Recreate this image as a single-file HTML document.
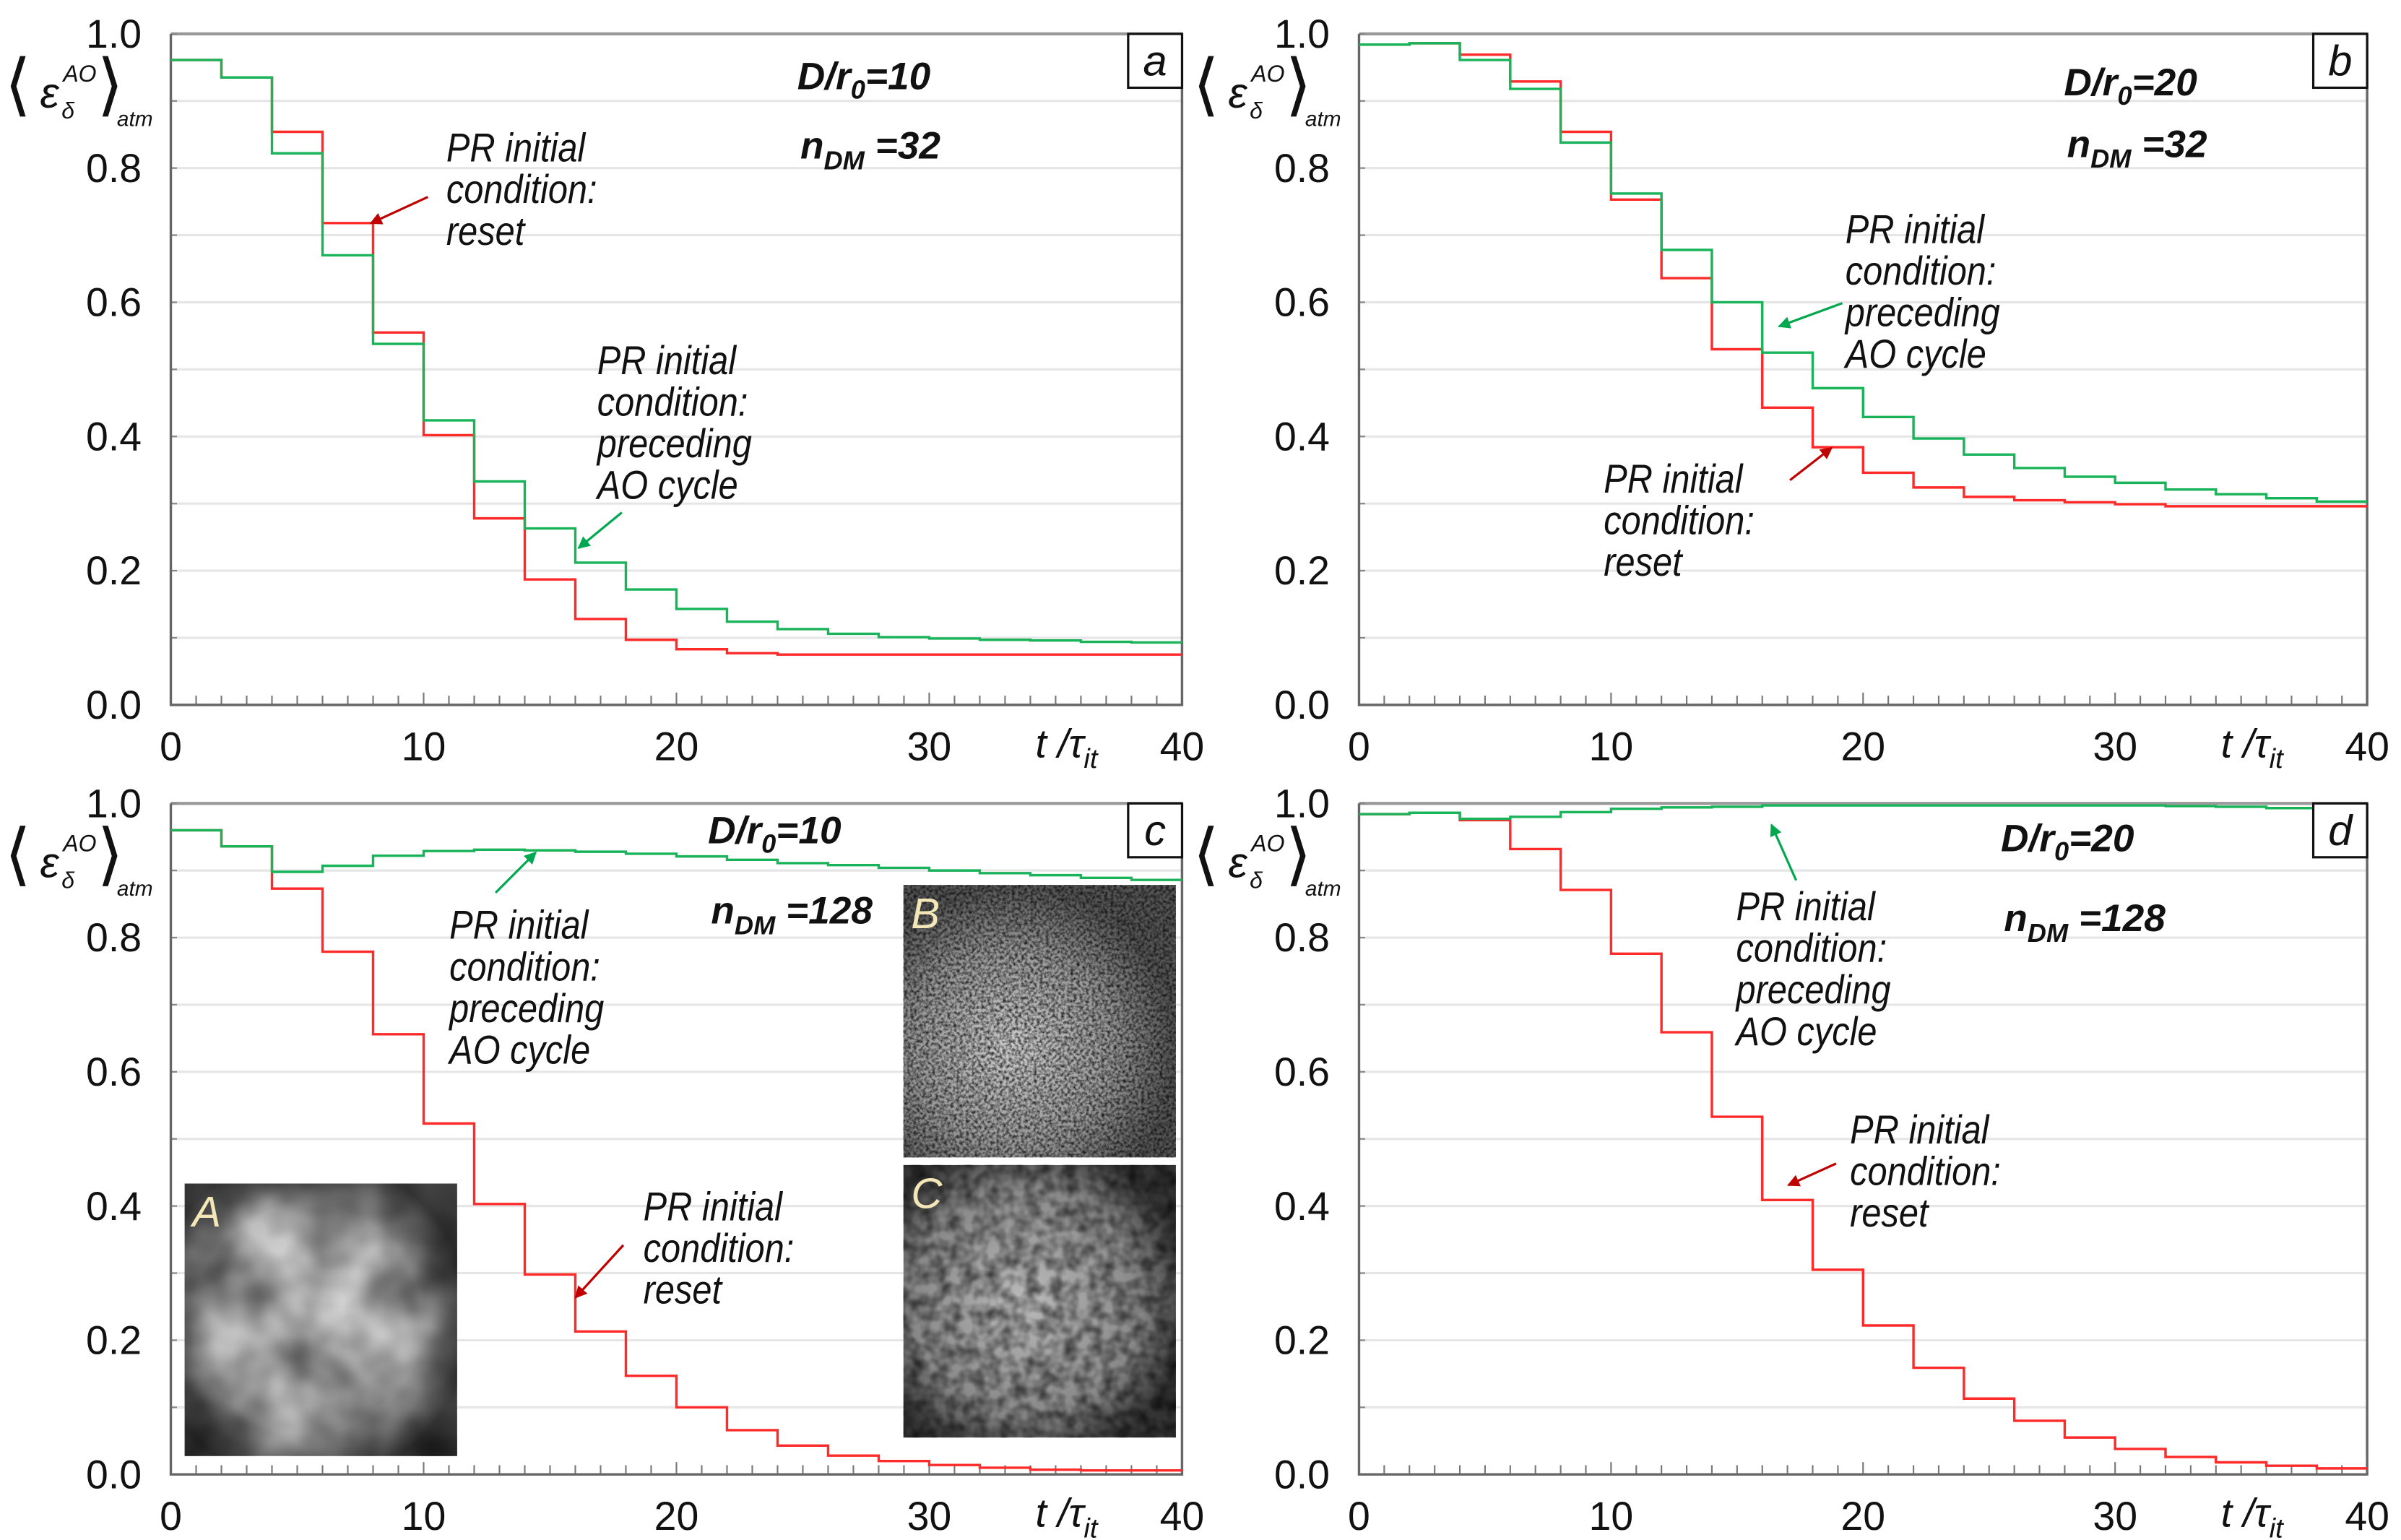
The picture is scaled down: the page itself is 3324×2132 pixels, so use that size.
<!DOCTYPE html>
<html><head><meta charset="utf-8"><style>
html,body{margin:0;padding:0;background:#fff;}
svg{display:block;}
text{font-family:"Liberation Sans",sans-serif;}
.tk{font-size:26px;fill:#111;}
.an{font-size:26px;font-style:italic;fill:#111;}
.bd{font-size:25px;font-style:italic;font-weight:bold;fill:#111;}
</style></head><body>
<svg id="fig" width="3324" height="2132" viewBox="0 0 1560 1000.6" preserveAspectRatio="none" xmlns="http://www.w3.org/2000/svg">
<defs>
<filter id="noiseA" x="0" y="0" width="1" height="1"><feTurbulence type="fractalNoise" baseFrequency="0.02" numOctaves="3" seed="3"/><feColorMatrix type="matrix" values="0 0 0 0 0  0 0 0 0 0  0 0 0 0 0  0 0 0 -1.4 1.1"/></filter>
<filter id="noiseB" x="0" y="0" width="1" height="1"><feTurbulence type="fractalNoise" baseFrequency="0.5" numOctaves="2" seed="5"/><feColorMatrix type="matrix" values="0 0 0 0 0  0 0 0 0 0  0 0 0 0 0  0 0 0 -2 1.3"/></filter>
<filter id="noiseC" x="0" y="0" width="1" height="1"><feTurbulence type="fractalNoise" baseFrequency="0.12" numOctaves="2" seed="8"/><feColorMatrix type="matrix" values="0 0 0 0 0  0 0 0 0 0  0 0 0 0 0  0 0 0 -1.6 1.1"/></filter>
<radialGradient id="glowA" cx="0.45" cy="0.5" r="0.6"><stop offset="0" stop-color="#eee"/><stop offset="0.7" stop-color="#bbb"/><stop offset="1" stop-color="#444"/></radialGradient>
<radialGradient id="glowB" cx="0.4" cy="0.6" r="0.6"><stop offset="0" stop-color="#ccc"/><stop offset="0.6" stop-color="#999"/><stop offset="1" stop-color="#555"/></radialGradient>
<radialGradient id="glowC" cx="0.45" cy="0.5" r="0.6"><stop offset="0" stop-color="#bbb"/><stop offset="0.7" stop-color="#888"/><stop offset="1" stop-color="#333"/></radialGradient>
<marker id="arR" markerWidth="8" markerHeight="8" refX="7" refY="4" orient="auto" markerUnits="userSpaceOnUse"><path d="M0,0 L16,8 L0,16 z" fill="#c00000" transform="scale(0.5)"/></marker>
<marker id="arG" markerWidth="8" markerHeight="8" refX="7" refY="4" orient="auto" markerUnits="userSpaceOnUse"><path d="M0,0 L16,8 L0,16 z" fill="#00a850" transform="scale(0.5)"/></marker>
</defs>
<g id="root"></g>
</svg>
<script>
// ---- data ----
const tSteps = [0,2,4,6,8,10,12,14,16,18,20,22,24,26,28,30,32,34,36,38];
const xTicks = [0,10,20,30,40];
const yTicks = [0.0,0.2,0.4,0.6,0.8,1.0];
const aGreen = [0.961,0.935,0.822,0.670,0.538,0.424,0.333,0.263,0.212,0.172,0.143,0.124,0.113,0.106,0.101,0.099,0.097,0.096,0.094,0.093];
const aRed   = [0.961,0.935,0.854,0.718,0.555,0.402,0.278,0.187,0.128,0.097,0.083,0.077,0.075,0.075,0.075,0.075,0.075,0.075,0.075,0.075];
const bGreen = [0.984,0.986,0.961,0.918,0.838,0.762,0.678,0.600,0.525,0.472,0.429,0.397,0.373,0.353,0.340,0.331,0.321,0.314,0.308,0.303];
const bRed   = [0.984,0.986,0.969,0.929,0.854,0.753,0.636,0.530,0.443,0.384,0.346,0.324,0.310,0.305,0.302,0.299,0.296,0.296,0.296,0.296];
const cGreen = [0.960,0.936,0.898,0.907,0.922,0.929,0.931,0.930,0.928,0.925,0.921,0.916,0.911,0.908,0.904,0.900,0.896,0.893,0.889,0.886];
const cRed   = [0.960,0.936,0.873,0.779,0.656,0.523,0.403,0.298,0.213,0.147,0.100,0.066,0.043,0.028,0.020,0.014,0.010,0.007,0.006,0.006];
const dGreen = [0.984,0.986,0.977,0.980,0.987,0.992,0.994,0.995,0.997,0.997,0.997,0.997,0.997,0.997,0.997,0.997,0.996,0.995,0.993,0.993];
const dRed   = [0.984,0.986,0.975,0.932,0.871,0.776,0.659,0.533,0.409,0.305,0.222,0.159,0.113,0.080,0.055,0.038,0.026,0.018,0.013,0.009];
const stepW = 2;

const NS="http://www.w3.org/2000/svg";
const root=document.getElementById('root');
function mk(tag,attrs,parent,txt){const e=document.createElementNS(NS,tag);for(const k in attrs)e.setAttribute(k,attrs[k]);if(txt!==undefined)e.textContent=txt;(parent||root).appendChild(e);return e;}

const panels=[
 {id:'a',x0:111,x1:768,yt:22,yb:458,g:aGreen,r:aRed,D:'10',n:'32'},
 {id:'b',x0:883,x1:1538,yt:22,yb:458,g:bGreen,r:bRed,D:'20',n:'32'},
 {id:'c',x0:111,x1:768,yt:522,yb:958,g:cGreen,r:cRed,D:'10',n:'128'},
 {id:'d',x0:883,x1:1538,yt:522,yb:958,g:dGreen,r:dRed,D:'20',n:'128'}
];

panels.forEach(p=>{
 const X=v=>p.x0+(p.x1-p.x0)*v/40;
 const Y=v=>p.yb-(p.yb-p.yt)*v;
 const g=mk('g',{});
 
 
 for(let i=1;i<=10;i++){
  const gl=mk('line',{x1:p.x0,x2:p.x1,y1:Y(i/10),y2:Y(i/10),stroke:i===10?'#999':'#e6e6e6','stroke-width':i===10?2:1.5},g);
  
  
  mk('line',{x1:p.x0,x2:p.x0+4,y1:Y(i/10),y2:Y(i/10),stroke:'#888','stroke-width':1},g);
 }
 for(let t=1;t<40;t++){mk('line',{x1:X(t),x2:X(t),y1:p.yb,y2:p.yb-(t%10===0?8:6),stroke:'#777','stroke-width':1},g);}
 const ax=mk('path',{d:`M${p.x0},${p.yt} V${p.yb} H${p.x1} V${p.yt}`,fill:'none',stroke:'#666','stroke-width':1.6},g);
 
 
 yTicks.forEach(v=>{const t=mk('text',{x:92,y:Y(v)+9,'text-anchor':'end',class:'tk'},g,v.toFixed(1)+'');
  
  if(p.id==='b'||p.id==='d')t.setAttribute('x',p.x0-19);});
 xTicks.forEach(v=>{const t=mk('text',{x:X(v),y:p.yb+36,'text-anchor':'middle',class:'tk'},g,String(v));
  });
 const xt=mk('text',{x:X(34.2),y:p.yb+34,class:'tk','font-style':'italic'},g);
 
 mk('tspan',{},xt,'t /τ');mk('tspan',{dy:7,'font-size':18},xt,'it');
 const yl=mk('g',{},g);
 
 const lx=p.x0-108;
 mk('text',{x:lx,y:p.yt+48,'font-size':44,fill:'#111','font-family':'Liberation Serif,serif'},yl,'⟨');
 mk('text',{x:lx+23,y:p.yt+48,'font-size':28,'font-style':'italic',fill:'#111','font-family':'Liberation Serif,serif'},yl,'ε');
 mk('text',{x:lx+38,y:p.yt+31,'font-size':15,'font-style':'italic',fill:'#111','font-family':'Liberation Serif,serif'},yl,'AO');
 mk('text',{x:lx+37,y:p.yt+55,'font-size':15,'font-style':'italic',fill:'#111','font-family':'Liberation Serif,serif'},yl,'δ');
 mk('text',{x:lx+60,y:p.yt+48,'font-size':44,fill:'#111','font-family':'Liberation Serif,serif'},yl,'⟩');
 mk('text',{x:lx+73,y:p.yt+60,'font-size':14,'font-style':'italic',fill:'#111','font-family':'Liberation Serif,serif'},yl,'atm');
 p.g_=g;p.X=X;p.Y=Y;
});

function stepPath(p,vals){let d='';vals.forEach((v,i)=>{const xa=p.X(tSteps[i]),xb=p.X(tSteps[i]+stepW);d+=(i===0?`M${xa},${p.Y(v)}`:` V${p.Y(v)}`)+` H${xb}`;});return d;}

(function(){
 const p=panels[2];
 const ins=[{n:'A',x:120,y:769,w:177,h:177,base:'url(#glowA)',f:'noiseA',op:0.7},
            {n:'B',x:587,y:575,w:177,h:177,base:'url(#glowB)',f:'noiseB',op:0.8},
            {n:'C',x:587,y:757,w:177,h:177,base:'url(#glowC)',f:'noiseC',op:0.7}];
 ins.forEach(s=>{const g=mk('g',{},p.g_);
  
  mk('rect',{x:s.x,y:s.y,width:s.w,height:s.h,fill:s.base},g);
  mk('rect',{x:s.x,y:s.y,width:s.w,height:s.h,filter:`url(#${s.f})`,opacity:s.op},g);
  mk('text',{x:s.x+5,y:s.y+28,'font-size':28,'font-style':'italic',fill:'#f3e7b8'},g,s.n);
 });
})();

panels.forEach(p=>{
 const rp=mk('path',{d:stepPath(p,p.r),fill:'none',stroke:'#ff2a2a','stroke-width':1.6},p.g_);
 
 const gp=mk('path',{d:stepPath(p,p.g),fill:'none',stroke:'#19b35a','stroke-width':1.6},p.g_);
 
 const bx=mk('g',{},p.g_);
 mk('rect',{x:p.x1-35,y:p.yt,width:35,height:35,fill:'#fff',stroke:'#111','stroke-width':1.5},bx);
 mk('text',{x:p.x1-17.5,y:p.yt+27,'text-anchor':'middle','font-size':28,'font-style':'italic',fill:'#111'},bx,p.id);
});

function params(p,x,y1,y2){
 const t1=mk('text',{x:x,y:y1,class:'bd'},p.g_);
 mk('tspan',{},t1,'D/r');mk('tspan',{dy:6,'font-size':17},t1,'0');mk('tspan',{dy:-6},t1,'='+p.D);
 const t2=mk('text',{x:x+2,y:y2,class:'bd'},p.g_);
 mk('tspan',{},t2,'n');mk('tspan',{dy:7,'font-size':17},t2,'DM');mk('tspan',{dy:-7},t2,' =' + p.n);
}
params(panels[0],518,58,103);params(panels[1],1341,62,102);params(panels[2],460,548,600);params(panels[3],1300,553,605);

function annot(p,name,x,y,lines,ax1,ay1,ax2,ay2,col){
 const g=mk('g',{},p.g_);
 const tg=mk('g',{transform:`translate(${x},0) scale(0.88,1)`},g);
 lines.forEach((l,i)=>mk('text',{x:0,y:y+27*i,class:'an'},tg,l));
 mk('line',{x1:ax1,y1:ay1,x2:ax2,y2:ay2,stroke:col==='r'?'#c00000':'#00a850','stroke-width':1.5,'marker-end':col==='r'?'url(#arR)':'url(#arG)'},g);
}
const R=['PR initial','condition:','reset'],G=['PR initial','condition:','preceding','AO cycle'];
annot(panels[0],'annotation-reset',290,105,R,278,128,241,145,'r');
annot(panels[0],'annotation-preceding',388,243,G,404,333,376,356,'g');
annot(panels[1],'annotation-preceding',1199,158,G,1197,197,1156,212,'g');
annot(panels[1],'annotation-reset',1042,320,R,1163,312,1190,291,'r');
annot(panels[2],'annotation-preceding',292,610,G,322,580,348,554,'g');
annot(panels[2],'annotation-reset',418,793,R,405,809,374,843,'r');
annot(panels[3],'annotation-preceding',1128,598,G,1167,572,1151,536,'g');
annot(panels[3],'annotation-reset',1202,743,R,1193,756,1162,770,'r');
</script>
</body></html>
